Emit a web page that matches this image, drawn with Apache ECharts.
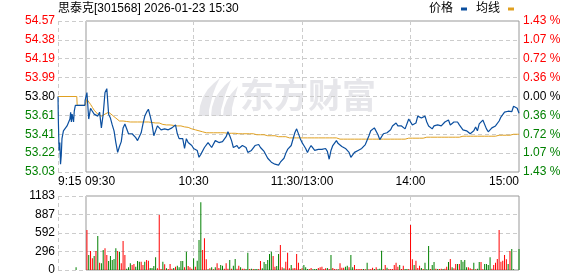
<!DOCTYPE html>
<html><head><meta charset="utf-8">
<script src="https://cdn.jsdelivr.net/npm/echarts@6/dist/echarts.min.js"></script>
<style>html,body{margin:0;padding:0;background:#fff}#c{width:578px;height:276px}</style>
</head><body><div id="c"></div>
<script>
const titleText = '思泰克[301568] 2026-01-23 15:30';
const legendNames = ['价格', '均线'];
const preClose = 53.80;
const priceTicks = [53.03, 53.2225, 53.415, 53.6075, 53.80, 53.9925, 54.185, 54.3775, 54.57];
const priceTickLabels = ['53.03','53.22','53.41','53.61','53.80','53.99','54.19','54.38','54.57'];
const pctTickLabels = ['1.43 %','1.07 %','0.72 %','0.36 %','0.00 %','0.36 %','0.72 %','1.07 %','1.43 %'];
const volTicks = [0, 295.75, 591.5, 887.25, 1183];
const volTickLabels = ['0','296','592','887','1183'];
const timeTicks = [-15, 0, 60, 120, 180, 240];
const timeTickLabels = ['9:15','09:30','10:30','11:30/13:00','14:00','15:00'];
const timeGridLines = [-15, 60, 120, 180];

// call auction (minutes relative to 09:30)
const preTimes  = [-15, -14.8, -14.4, -14.0, -13.6, -13.2, -12.8, -12.0, -11.0, -10.0, -9.0, -8.4, -8.0, -7.6, -7.2, -6.8, -6.4, -6.0, -5.4, -4.8, -0.1];
const prePrices = [53.80, 53.55, 53.25, 53.33, 53.11, 53.20, 53.37, 53.45, 53.47, 53.50, 53.50, 53.57, 53.64, 53.54, 53.62, 53.64, 53.54, 53.65, 53.71, 53.71, 53.71];
const preAvgTimes = [-15, -4.6, -4.4, -0.1];
const preAvg = [53.80, 53.80, 53.71, 53.71];
const preVolTimes = [-5];
const preVols = [43];
const preVolDir = ['g'];

// 09:30 .. 11:30 | 13:01 .. 15:00 (241 minutes)
const prices = [
53.76,53.84,53.57,53.68,53.65,53.62,53.64,53.60,53.64,53.48,
53.62,53.84,53.88,53.62,53.58,53.51,53.45,53.33,53.23,53.29,
53.34,53.48,53.52,53.51,53.42,53.40,53.42,53.43,53.38,53.35,
53.37,53.43,53.52,53.60,53.64,53.67,53.60,53.52,53.40,53.42,
53.50,53.49,53.46,53.48,53.47,53.47,53.46,53.47,53.48,53.49,
53.51,53.42,53.37,53.36,53.37,53.27,53.37,53.33,53.35,53.30,
53.27,53.27,53.25,53.18,53.21,53.23,53.28,53.30,53.33,53.32,
53.28,53.30,53.35,53.36,53.33,53.31,53.34,53.35,53.39,53.44,
53.40,53.35,53.28,53.27,53.30,53.27,53.28,53.30,53.30,53.28,
53.23,53.25,53.25,53.27,53.30,53.32,53.31,53.28,53.26,53.24,
53.22,53.17,53.15,53.13,53.11,53.11,53.09,53.10,53.13,53.15,
53.17,53.22,53.26,53.25,53.30,53.32,53.43,53.47,53.45,53.37,
53.33,53.30,53.27,53.23,53.27,53.30,53.32,53.25,53.27,53.26,
53.27,53.26,53.26,53.27,53.24,53.16,53.25,53.30,53.32,53.35,
53.32,53.33,53.29,53.27,53.27,53.26,53.23,53.18,53.20,53.23,
53.23,53.25,53.27,53.27,53.29,53.31,53.33,53.40,53.45,53.44,
53.48,53.47,53.41,53.36,53.37,53.42,53.43,53.43,53.44,53.46,
53.50,53.52,53.53,53.50,53.49,53.50,53.50,53.47,53.46,53.57,
53.58,53.51,53.51,53.53,53.60,53.60,53.58,53.58,53.60,53.54,
53.50,53.49,53.47,53.50,53.52,53.51,53.51,53.50,53.52,53.54,
53.53,53.56,53.51,53.53,53.54,53.54,53.54,53.51,53.49,53.46,
53.45,53.45,53.44,53.42,53.41,53.45,53.49,53.45,53.52,53.54,
53.56,53.54,53.47,53.44,53.45,53.48,53.50,53.50,53.52,53.55,
53.59,53.61,53.64,53.65,53.65,53.66,53.645,53.70,53.71,53.68,
53.63];
const avgPrices = [
53.71,53.77,53.76,53.72,53.69,53.66,53.64,53.62,53.61,53.60,
53.60,53.62,53.64,53.64,53.63,53.61,53.60,53.58,53.56,53.55,
53.55,53.55,53.545,53.545,53.545,53.54,53.54,53.54,53.54,53.54,
53.54,53.54,53.54,53.54,53.54,53.54,53.54,53.535,53.535,53.53,
53.53,53.53,53.52,53.515,53.515,53.51,53.51,53.51,53.505,53.505,
53.50,53.50,53.50,53.50,53.495,53.49,53.49,53.485,53.48,53.47,
53.465,53.46,53.455,53.45,53.445,53.44,53.435,53.43,53.43,53.43,
53.43,53.43,53.43,53.43,53.43,53.43,53.43,53.43,53.425,53.425,
53.425,53.425,53.425,53.425,53.425,53.42,53.42,53.42,53.42,53.42,
53.42,53.42,53.42,53.42,53.42,53.41,53.41,53.41,53.41,53.41,
53.41,53.40,53.40,53.40,53.40,53.40,53.40,53.39,53.39,53.39,
53.39,53.39,53.39,53.378,53.378,53.378,53.378,53.378,53.378,53.378,
53.378,53.378,53.378,53.378,53.378,53.378,53.378,53.378,53.378,53.378,
53.378,53.378,53.378,53.378,53.378,53.378,53.378,53.378,53.378,53.378,
53.365,53.365,53.365,53.365,53.365,53.365,53.365,53.365,53.365,53.365,
53.365,53.365,53.365,53.365,53.365,53.365,53.365,53.365,53.365,53.365,
53.365,53.365,53.365,53.365,53.365,53.365,53.365,53.365,53.365,53.365,
53.365,53.365,53.365,53.365,53.365,53.365,53.365,53.365,53.365,53.375,
53.375,53.375,53.375,53.375,53.375,53.375,53.375,53.375,53.375,53.385,
53.385,53.385,53.385,53.385,53.385,53.385,53.385,53.385,53.385,53.385,
53.385,53.385,53.385,53.385,53.385,53.385,53.385,53.385,53.395,53.395,
53.395,53.395,53.395,53.395,53.395,53.395,53.395,53.395,53.395,53.395,
53.395,53.395,53.395,53.395,53.395,53.395,53.395,53.395,53.395,53.405,
53.405,53.405,53.405,53.405,53.405,53.405,53.415,53.415,53.415,53.415,
53.415];
const volumes = [
0,640,240,304,187,224,304,544,117,107,
320,347,240,144,224,160,176,347,304,293,
107,464,240,21,43,107,80,96,53,144,
133,133,80,133,160,149,32,32,64,203,
27,880,16,133,91,27,16,96,21,32,
53,69,43,144,144,43,293,64,43,21,
187,53,149,480,1082,320,506,171,11,27,
43,11,43,107,32,80,69,21,107,21,
160,21,69,176,21,69,43,21,21,16,
277,16,21,16,16,16,16,144,27,128,
96,160,256,293,224,53,64,256,400,43,
27,133,277,27,80,27,32,256,117,16,
27,80,43,16,16,32,11,16,16,32,
43,53,16,27,32,16,240,32,16,11,
11,107,37,37,53,69,43,240,43,80,
16,16,16,16,16,11,117,11,16,37,
16,43,11,21,309,11,80,37,16,16,
16,80,117,53,80,16,69,16,16,16,
720,171,80,149,32,69,32,16,117,11,
384,16,80,128,21,16,16,21,16,21,
53,128,176,43,27,96,96,96,160,133,
160,43,43,27,16,117,11,21,128,128,
11,96,96,80,203,21,80,117,176,640,
133,149,240,171,96,304,336,11,0,0,
336];
// r = up (red), g = down (green)
const volDir = (
'grgrrgrgrg'+'grrgggggrg'+'rrrgggrrgg'+'grrgrrgggg'+'rrrgrgrrrg'+
'rggggrgrrr'+'grgggrrrgr'+'grgrrggrrr'+'grggrrgrrg'+'grgrggrrgg'+
'ggggrrggrr'+'grrrgrrrrg'+'rgggrrgggr'+'rrrrgrgrrr'+'grrrggrggr'+
'rrrrgrgrrr'+'grgggrrgrr'+'rrrrgrrggr'+'rrgrrrgrgg'+'grggrgrrgr'+
'rgrgrrgrgg'+'ggrrrgrggr'+'rggggrrrrr'+'rrrrgrgggg'+'g').split('');

const minutes = prices.map((_, i) => i);
const RED = '#ff0000', GREEN = '#008000', BLUE = '#0b4f9f', GOLD = '#e0a020';
const FONT = '"Liberation Sans", "Noto Sans CJK SC", sans-serif';
const DASH = {color: '#cccccc', type: [4, 3], width: 1};
const WM = '#e6e6ea';

function nearestIdx(arr, v) {
  let b = 0;
  for (let i = 1; i < arr.length; i++) if (Math.abs(arr[i] - v) < Math.abs(arr[b] - v)) b = i;
  return b;
}
function priceColor(v) {
  if (Math.abs(v - preClose) < 1e-6) return '#000';
  return v > preClose ? RED : GREEN;
}

const priceData = preTimes.map((t, i) => [t, prePrices[i]]).concat(minutes.map(m => [m, prices[m]]));
const avgData = preAvgTimes.map((t, i) => [t, preAvg[i]]).concat(minutes.map(m => [m, avgPrices[m]]));
const volData = preVolTimes.map((t, i) => ({value: [t, preVols[i]], itemStyle: {color: preVolDir[i] === 'r' ? RED : GREEN}}))
  .concat(minutes.map(m => ({value: [m, volumes[m]], itemStyle: {color: volDir[m] === 'r' ? RED : GREEN}})));

const timeLabelFmt = v => {
  const i = nearestIdx(timeTicks, v);
  const s = timeTickLabels[i];
  if (v === 0) return '{l|' + s + '}';
  return s;
};

const chart = echarts.init(document.getElementById('c'), null, {renderer: 'canvas'});
chart.setOption({
  animation: false,
  backgroundColor: '#fff',
  textStyle: {fontFamily: FONT},
  title: {text: titleText, left: 58, top: 3, padding: 0,
    textStyle: {fontSize: 12, fontWeight: 'normal', color: '#000', fontFamily: FONT}},
  legend: {data: legendNames, right: 64, top: 3, align: 'right', itemWidth: 6, itemHeight: 3, itemGap: 9,
    icon: 'rect', padding: 0,
    textStyle: {fontSize: 12, color: '#000', fontFamily: FONT, padding: [0, 3, 10, 0]}},
  graphic: [
    {type: 'group', z: 1, silent: true, children: [
      {type: 'polygon', shape: {points: [[199,116],[200,106],[203,97],[208,89],[214,83],[220,78],[216,86],[213,94],[211,102],[209,110],[209,116]]}, style: {fill: WM}},
      {type: 'polygon', shape: {points: [[211,116],[212,107],[215,98],[220,91],[225,85],[231,80],[228,87],[225,95],[223,103],[221,110],[221,116]]}, style: {fill: WM}},
      {type: 'polygon', shape: {points: [[223,116],[224,108],[227,100],[231,94],[238,86],[236,93],[234,100],[232,108],[232,116]]}, style: {fill: WM}},
      {type: 'text', x: 240, y: 78, style: {text: '东方财富', font: 'bold 34px "Noto Sans CJK SC"', fill: WM}}
    ]}
  ],
  grid: [
    {left: 58, top: 21, width: 461, height: 151},
    {left: 86, top: 21, width: 433, height: 151, show: true, borderColor: '#999', borderWidth: 1, backgroundColor: 'transparent'},
    {left: 58, top: 196, width: 461, height: 74},
    {left: 86, top: 196, width: 433, height: 74, show: true, borderColor: '#999', borderWidth: 1, backgroundColor: 'transparent'}
  ],
  xAxis: [
    {gridIndex: 0, type: 'value', min: -15, max: 240,
      axisLine: {show: false}, axisTick: {show: false, customValues: timeGridLines},
      splitLine: {show: true, lineStyle: DASH},
      axisLabel: {customValues: timeTicks, formatter: timeLabelFmt, color: '#000', fontSize: 12, margin: 4,
        fontFamily: FONT, alignMinLabel: 'left', alignMaxLabel: 'right', hideOverlap: false,
        rich: {l: {padding: [0, 0, 0, 30], fontSize: 12, color: '#000', fontFamily: FONT}}}},
    {gridIndex: 1, type: 'value', min: 0, max: 240, show: false},
    {gridIndex: 2, type: 'value', min: -15, max: 240,
      axisLine: {show: false}, axisTick: {show: false, customValues: timeGridLines},
      splitLine: {show: true, lineStyle: DASH}, axisLabel: {show: false}},
    {gridIndex: 3, type: 'value', min: 0, max: 240, show: false}
  ],
  yAxis: [
    {gridIndex: 0, type: 'value', min: priceTicks[0], max: priceTicks[priceTicks.length - 1], position: 'left',
      axisLine: {show: false}, axisTick: {show: false, customValues: priceTicks},
      splitLine: {show: true, lineStyle: DASH},
      axisLabel: {customValues: priceTicks, margin: 3, fontSize: 12, fontFamily: FONT,
        formatter: v => priceTickLabels[nearestIdx(priceTicks, v)],
        color: v => priceColor(priceTicks[nearestIdx(priceTicks, v)])}},
    {gridIndex: 0, type: 'value', min: priceTicks[0], max: priceTicks[priceTicks.length - 1], position: 'right',
      axisLine: {show: false}, axisTick: {show: false, customValues: priceTicks},
      splitLine: {show: false},
      axisLabel: {customValues: priceTicks, margin: 4, fontSize: 12, fontFamily: FONT,
        formatter: v => pctTickLabels[nearestIdx(priceTicks, v)],
        color: v => priceColor(priceTicks[nearestIdx(priceTicks, v)])}},
    {gridIndex: 1, type: 'value', show: false, min: 0, max: 1},
    {gridIndex: 2, type: 'value', min: 0, max: volTicks[volTicks.length - 1],
      axisLine: {show: false}, axisTick: {show: false, customValues: volTicks},
      splitLine: {show: true, lineStyle: DASH},
      axisLabel: {customValues: volTicks, margin: 3, fontSize: 12, color: '#000', fontFamily: FONT,
        formatter: v => volTickLabels[nearestIdx(volTicks, v)]}},
    {gridIndex: 3, type: 'value', show: false, min: 0, max: 1}
  ],
  series: [
    {name: legendNames[0], type: 'line', xAxisIndex: 0, yAxisIndex: 0, data: priceData, symbol: 'none',
      lineStyle: {color: BLUE, width: 1.2}, itemStyle: {color: BLUE}, z: 4},
    {name: legendNames[1], type: 'line', xAxisIndex: 0, yAxisIndex: 0, data: avgData, symbol: 'none',
      lineStyle: {color: GOLD, width: 1}, itemStyle: {color: GOLD}, z: 3},
    {name: 'vol', type: 'bar', xAxisIndex: 2, yAxisIndex: 3, data: volData, barWidth: 1, z: 3}
  ]
});
</script></body></html>
